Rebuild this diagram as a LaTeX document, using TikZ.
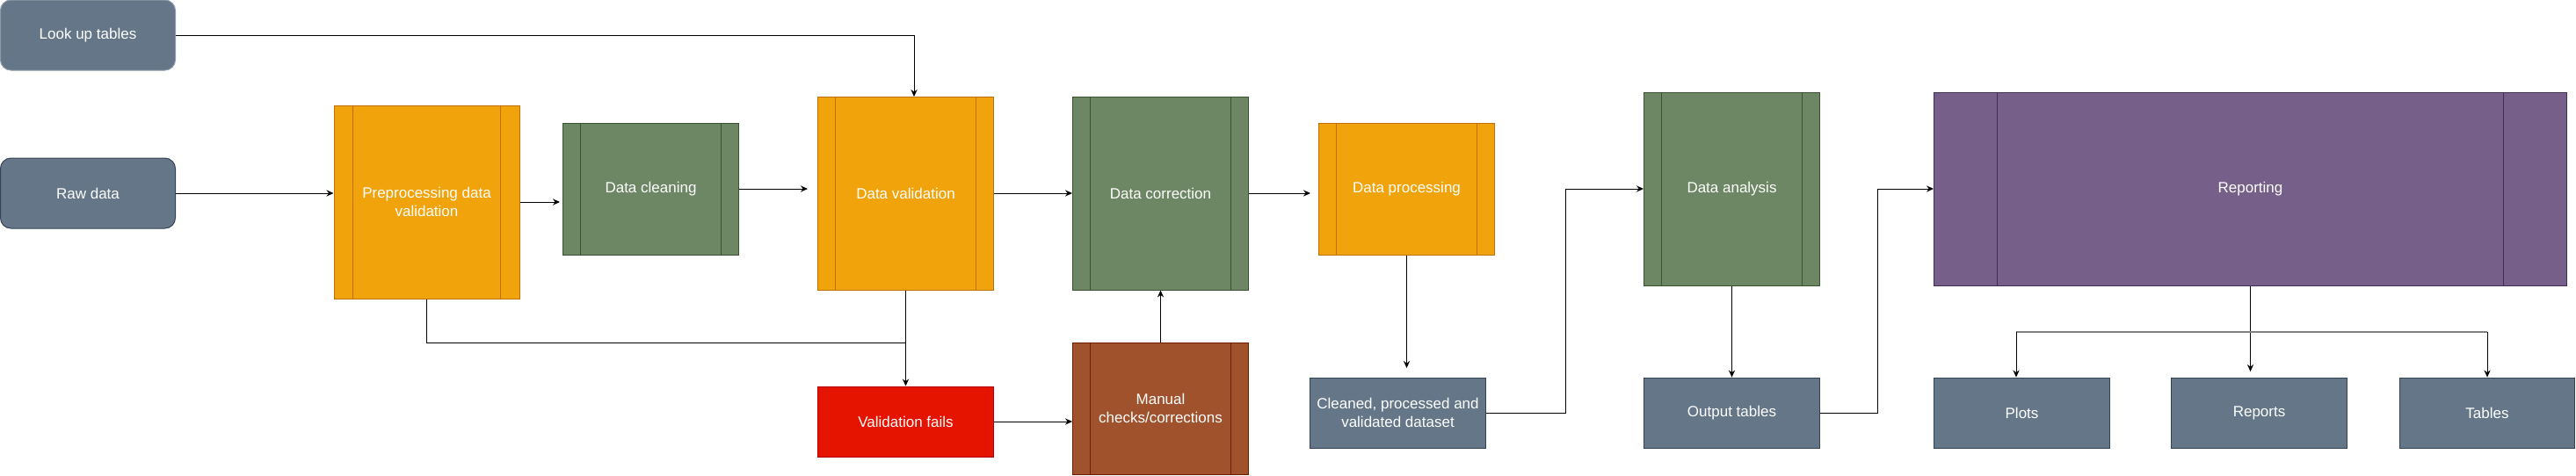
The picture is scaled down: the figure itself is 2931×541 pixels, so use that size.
\documentclass[tikz,border=0pt]{standalone}
\usepackage{fontspec}
\setmainfont{Liberation Sans}
\usepackage{tikz}
\usetikzlibrary{arrows.meta}
\usetikzlibrary{calc}

\definecolor{slatef}{HTML}{647687}
\definecolor{slated}{HTML}{314354}
\definecolor{slatel}{HTML}{8E9AA7}
\definecolor{orgf}{HTML}{F0A30A}
\definecolor{orgd}{HTML}{BD7000}
\definecolor{grnf}{HTML}{6D8764}
\definecolor{grnd}{HTML}{3A5431}
\definecolor{redf}{HTML}{E51400}
\definecolor{redd}{HTML}{B20000}
\definecolor{brnf}{HTML}{A0522D}
\definecolor{brnd}{HTML}{6D1F00}
\definecolor{purf}{HTML}{76608A}
\definecolor{purd}{HTML}{432D57}

\newcommand{\boxfont}{\fontsize{8.5}{10.5}\selectfont}

\tikzset{
  box/.style 2 args={draw=#2, fill=#1, text=white, font=\boxfont, align=center,
    inner sep=0pt, line width=0.5pt},
  % process shape: two inner bars at 10% of the width
  proc/.style 2 args={box={#1}{#2}, path picture={
      \draw[#2, line width=0.5pt]
        ($(path picture bounding box.north west)!0.1!(path picture bounding box.north east)$) --
        ($(path picture bounding box.south west)!0.1!(path picture bounding box.south east)$)
        ($(path picture bounding box.north west)!0.9!(path picture bounding box.north east)$) --
        ($(path picture bounding box.south west)!0.9!(path picture bounding box.south east)$);}},
  src/.style={box={slatef}{slated}, rounded corners=6pt, minimum width=99.5pt, minimum height=40pt},
  outbox/.style={box={slatef}{slated}, minimum width=100pt, minimum height=40pt},
  wire/.style={-{Stealth[length=4pt,width=3.6pt]}, line width=0.5pt},
}

\begin{document}
\begin{tikzpicture}[x=0.5pt, y=-0.5pt]
      \useasboundingbox (0,0) rectangle (2931,541);
      \node[src, draw=slatel] (lut) at (100,40) {Look up tables};
      \node[src] (raw) at (100,220) {Raw data};
      \node[proc={orgf}{orgd}, minimum width=105.5pt, minimum height=110pt] (pre) at (485.5,230) {Preprocessing data\\validation};
      \node[proc={grnf}{grnd}, minimum width=100pt, minimum height=75pt] (cln) at (740.5,215) {Data cleaning};
      \node[proc={orgf}{orgd}, minimum width=100pt, minimum height=110pt] (val) at (1030.5,220) {Data validation};
      \node[proc={grnf}{grnd}, minimum width=100pt, minimum height=110pt] (cor) at (1320.5,220) {Data correction};
      \node[proc={orgf}{orgd}, minimum width=100pt, minimum height=75pt] (proc) at (1600.5,215) {Data processing};
      \node[box={redf}{redd}, minimum width=100pt, minimum height=40pt] (fail) at (1030.5,480) {Validation fails};
      \node[proc={brnf}{brnd}, minimum width=100pt, minimum height=75pt] (man) at (1320.5,465) {Manual\\checks/corrections};
      \node[outbox] (cds) at (1590.5,470) {Cleaned, processed and\\validated dataset};
      \node[proc={grnf}{grnd}, minimum width=100pt, minimum height=110pt] (ana) at (1970.5,215) {Data analysis};
      \node[outbox] (out) at (1970.5,470) {Output tables};
      \node[proc={purf}{purd}, minimum width=360pt, minimum height=110pt] (rep) at (2560.5,215) {Reporting};
      \node[outbox] (plt) at (2300.5,470) {Plots};
      \node[outbox] (rpt) at (2570.5,470) {Reports};
      \node[outbox, minimum width=99.5pt] (tab) at (2830,470) {Tables};

      \coordinate (lk) at (1040,110);
      \coordinate (c1) at (637,230);
      \coordinate (c2) at (919,215);
      \coordinate (c3) at (1491,220);
      \coordinate (c4) at (1600.5,419);
      \coordinate (c5) at (2560.5,423);
      \coordinate (j1) at (1030.5,390);
      \coordinate (f1) at (2294,378);
      \coordinate (f2) at (2830,378);

      \draw [wire] (lut.east) -| (lk);
      \draw [wire] (raw.east) -- (raw.east -| pre.west);
      \draw [wire] (pre.east) -- (c1);
      \draw [wire] (cln.east) -- (c2);
      \draw [wire] (val.east) -- (cor.west);
      \draw [wire] (cor.east) -- (c3);
      \draw [wire] (val.south) -- (fail.north);
      \draw [line width=0.5pt] (pre.south) |- (j1);
      \draw [wire] (fail.east) -- (fail.east -| man.west);
      \draw [wire] (man.north) -- (cor.south);
      \draw [wire] (proc.south) -- (c4);
      \draw [wire] (cds.east) -- ++(90,0) |- (ana.west);
      \draw [wire] (ana.south) -- (out.north);
      \draw [wire] (out.east) -- ++(65,0) |- (rep.west);
      \draw [wire] (rep.south) -- (c5);
      \draw [gray, line width=0.75pt] (f1) -- (f2);
      \draw [wire] (f1) -- (f1 |- plt.north);
      \draw [wire] (f2) -- (tab.north);
    \end{tikzpicture}
\end{document}
